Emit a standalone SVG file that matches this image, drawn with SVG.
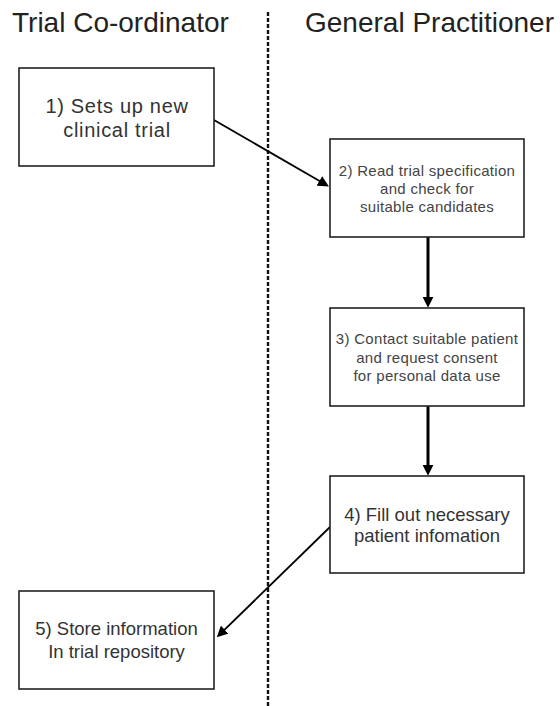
<svg xmlns="http://www.w3.org/2000/svg" width="560" height="706" viewBox="0 0 560 706">
  <style>
    .bg { fill: #ffffff; }
    .box { fill: #ffffff; stroke: #222222; stroke-width: 1.6; }
    .title { font-family: "Liberation Sans", Arial, sans-serif; font-size: 28px; fill: #222222; }
    .t1 { font-family: "Liberation Sans", Arial, sans-serif; font-size: 20px; letter-spacing: 0.7px; fill: #333333; text-anchor: middle; }
    .tsm { font-family: "Liberation Sans", Arial, sans-serif; font-size: 15px; letter-spacing: 0.3px; fill: #444444; text-anchor: middle; }
    .tmd { font-family: "Liberation Sans", Arial, sans-serif; font-size: 18.5px; fill: #333333; text-anchor: middle; }
    .lane { stroke: #111111; stroke-width: 2.4; stroke-dasharray: 4 2; fill: none; }
    .thick { stroke: #000000; stroke-width: 3; fill: none; }
    .thin { stroke: #000000; stroke-width: 1.8; fill: none; }
  </style>
  <defs>
    <marker id="ah" viewBox="0 0 10 10" refX="2" refY="5" markerUnits="userSpaceOnUse" markerWidth="11" markerHeight="11" orient="auto">
      <path d="M0,0 L10,5 L0,10 z" fill="#000000"/>
    </marker>
    <marker id="ahs" viewBox="0 0 10 10" refX="2" refY="5" markerUnits="userSpaceOnUse" markerWidth="11" markerHeight="11" orient="auto">
      <path d="M0,0 L10,5 L0,10 z" fill="#000000"/>
    </marker>
  </defs>
  <rect class="bg" x="0" y="0" width="560" height="706"/>

  <g id="lanes">
    <line class="lane" x1="268" y1="12" x2="268" y2="706"/>
    <text class="title" x="12" y="32">Trial Co-ordinator</text>
    <text class="title" x="305" y="32">General Practitioner</text>
  </g>

  <g id="connectors">
    <line class="thin" x1="214" y1="120" x2="321.3" y2="182" marker-end="url(#ahs)"/>
    <line class="thick" x1="428" y1="237" x2="428" y2="299" marker-end="url(#ah)"/>
    <line class="thick" x1="428" y1="406" x2="428" y2="467" marker-end="url(#ah)"/>
    <line class="thin" x1="330" y1="527" x2="223.1" y2="631.2" marker-end="url(#ahs)"/>
  </g>

  <g id="node1">
    <rect class="box" x="19" y="68" width="195" height="98"/>
    <text class="t1" x="117" y="113">1) Sets up new</text>
    <text class="t1" x="117" y="137">clinical trial</text>
  </g>

  <g id="node2">
    <rect class="box" x="330" y="139" width="194" height="98"/>
    <text class="tsm" x="427" y="176">2) Read trial specification</text>
    <text class="tsm" x="427" y="194">and check for</text>
    <text class="tsm" x="427" y="212">suitable candidates</text>
  </g>

  <g id="node3">
    <rect class="box" x="330" y="308" width="194" height="98"/>
    <text class="tsm" x="427" y="344">3) Contact suitable patient</text>
    <text class="tsm" x="427" y="362.5">and request consent</text>
    <text class="tsm" x="427" y="381">for personal data use</text>
  </g>

  <g id="node4">
    <rect class="box" x="330" y="476" width="194" height="97"/>
    <text class="tmd" x="427" y="521">4) Fill out necessary</text>
    <text class="tmd" x="427" y="542">patient infomation</text>
  </g>

  <g id="node5">
    <rect class="box" x="19" y="591" width="195" height="98"/>
    <text class="tmd" x="116.5" y="635">5) Store information</text>
    <text class="tmd" x="116.5" y="658">In trial repository</text>
  </g>
</svg>
